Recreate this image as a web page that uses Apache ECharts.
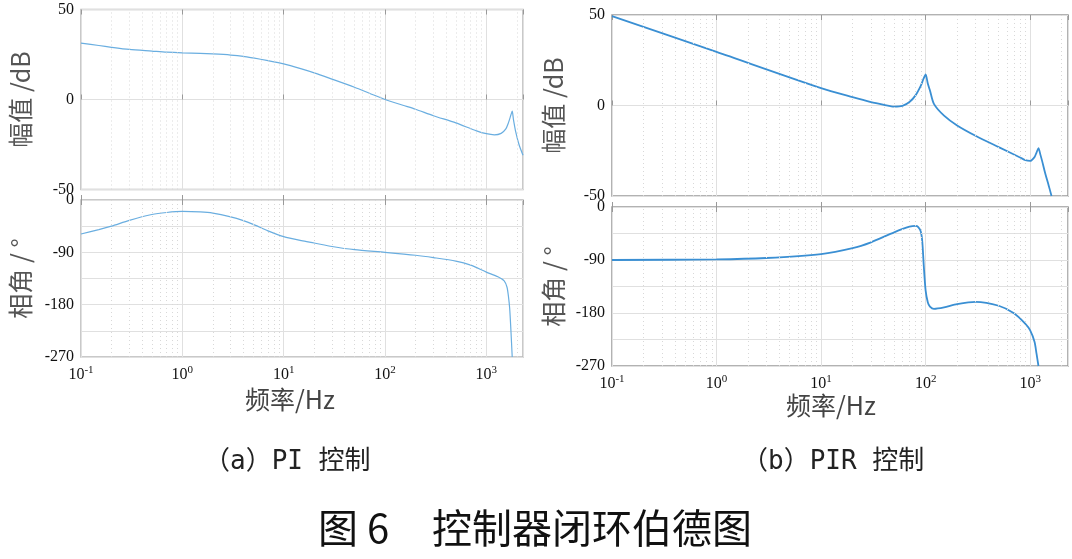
<!DOCTYPE html>
<html>
<head>
<meta charset="utf-8">
<script src="https://cdn.jsdelivr.net/npm/echarts@6/dist/echarts.min.js"></script>
<style>
    html, body { margin: 0; padding: 0; background: #fff; }
    #chart { width: 1072px; height: 559px; }
</style>
</head>
<body>
<div id="chart"></div>
<script>
// (a) PI 控制 - 幅值
const piMagFreq = [0.1, 0.15, 0.2, 0.3, 0.5, 0.7, 1, 1.5, 2, 3, 4, 5, 7, 10, 15, 20, 30, 50, 70, 100, 150, 200, 300, 500, 800, 1000, 1200, 1400, 1550, 1650, 1750, 1800, 1850, 1950, 2100, 2300]
const piMag = [31.3, 30, 29, 27.8, 26.9, 26.3, 25.9, 25.6, 25.3, 24.7, 24, 23.1, 21.6, 19.8, 17, 14.8, 11.3, 6.8, 3.5, 0, -3.2, -5.4, -9, -13, -17.4, -19, -19.6, -18.8, -16.5, -13, -8.5, -6.5, -11, -18, -25, -31]
// (a) PI 控制 - 相角
const piPhaseFreq = [0.1, 0.15, 0.2, 0.3, 0.5, 0.7, 1, 1.5, 2, 3, 4, 5, 7, 10, 15, 20, 30, 50, 100, 200, 300, 500, 700, 1000, 1300, 1500, 1600, 1650, 1700, 1750, 1800]
const piPhase = [-58.5, -51, -45, -35, -25, -21.5, -19.7, -20.5, -22.5, -29, -35.5, -42, -53, -63, -70, -74, -80, -85.5, -90, -95, -99, -105, -112, -124, -132, -139, -150, -165, -187, -226, -270]
// (b) PIR 控制 - 幅值
const pirMagFreq = [0.1, 1, 10, 20, 30, 40, 50, 60, 70, 80, 90, 95, 100, 105, 110, 120, 150, 200, 300, 500, 800, 900, 1000, 1100, 1150, 1200, 1250, 1300, 1400, 1500, 1600]
const pirMag = [49.4, 29.6, 9.6, 4.6, 1.9, 0.4, -0.6, -0.2, 1.9, 5.6, 11, 14.5, 17.2, 12, 8.3, 0.9, -5.6, -11, -16.7, -23, -28.7, -30.2, -30.6, -28.5, -26, -23.5, -27, -30.6, -38, -44, -50]
// (b) PIR 控制 - 相角
const pirPhaseFreq = [0.1, 1, 3, 10, 20, 30, 50, 70, 80, 85, 90, 93, 96, 100, 105, 110, 120, 150, 200, 300, 500, 700, 900, 1000, 1100, 1150, 1200]
const pirPhase = [-90, -89, -86.6, -80, -70, -60, -43, -33.5, -32, -34, -42, -60, -100, -142, -162, -169, -173, -170.5, -165, -161, -167.7, -180.5, -198.5, -209.6, -229, -249, -270]

const freqMin = 0.1
const freqMax = 2300
const magTicks = [-50, 0, 50]
const phaseTicks = [-270, -180, -90, 0]

// 次网格线 2..9 x 10^k
const minorGrid = []
for (let e = -1; e <= 3; e++) {
    for (let m = 2; m <= 9; m++) {
        const v = m * Math.pow(10, e)
        if (v < freqMax) minorGrid.push(v)
    }
}

const pairs = (xs, ys) => xs.map((x, i) => [x, ys[i]])

const serif = 'Liberation Serif'
const cjk = 'Noto Sans CJK SC'

function xLabel(v) {
    const lg = Math.log10(v)
    const e = Math.round(lg)
    if (Math.abs(lg - e) > 1e-6) return ''
    return '{b|10}{s|' + e + '}'
}

function makeX(grid, showLabel, gap, shift) {
    return [{
        type: 'log',
        logBase: 10,
        gridIndex: grid,
        min: freqMin,
        max: freqMax,
        axisLine: {show: false},
        axisTick: {show: true, inside: true, length: 5, lineStyle: {color: '#999'}},
        axisLabel: {
            show: showLabel,
            margin: 8,
            showMaxLabel: false,
            formatter: xLabel,
            rich: {
                b: {fontFamily: serif, fontSize: 16, color: '#111', lineHeight: 20},
                s: {fontFamily: serif, fontSize: 11, color: '#111', verticalAlign: 'top', lineHeight: 12}
            }
        },
        splitLine: {show: true, lineStyle: {color: '#e0e0e0', width: 1}},
        name: showLabel ? '频率/Hz' : '',
        nameLocation: 'middle',
        nameGap: gap,
        nameTextStyle: {fontFamily: cjk, fontSize: 25, color: '#444', padding: [0, shift, 0, 0]}
    }, {
        type: 'log',
        logBase: 10,
        gridIndex: grid,
        position: 'top',
        min: freqMin,
        max: freqMax,
        axisLine: {show: false},
        axisTick: {show: true, inside: true, length: 5, lineStyle: {color: '#999'}},
        axisLabel: {show: false},
        splitLine: {show: false}
    }]
}

function makeY(grid, isMag, gap) {
    return {
        type: 'value',
        gridIndex: grid,
        min: isMag ? -50 : -270,
        max: isMag ? 50 : 0,
        interval: isMag ? 50 : 45,
        axisLine: {show: false},
        axisTick: {show: false},
        axisLabel: {
            margin: 7,
            fontFamily: serif,
            fontSize: 16,
            color: '#111',
            formatter: v => (isMag ? magTicks : phaseTicks).includes(v) ? String(v) : ''
        },
        splitLine: {show: true, lineStyle: {color: '#e0e0e0', width: 1.2}},
        name: isMag ? '幅值 /dB' : '相角 / °',
        nameLocation: 'middle',
        nameRotate: 90,
        nameGap: gap,
        nameTextStyle: {fontFamily: cjk, fontSize: 25, color: '#555'}
    }
}

function makeSeries(idx, data, color, width) {
    return {
        type: 'line',
        xAxisIndex: idx * 2,
        yAxisIndex: idx,
        data: data,
        showSymbol: false,
        smooth: 0.25,
        clip: true,
        lineStyle: {color: color, width: width},
        markLine: {
            silent: true,
            symbol: 'none',
            animation: false,
            label: {show: false},
            lineStyle: {color: '#d8d8d8', type: [1, 3], width: 1},
            data: minorGrid.map(v => ({xAxis: v}))
        }
    }
}

const chart = echarts.init(document.getElementById('chart'), null, {renderer: 'canvas'})
const options = {
    animation: false,
    backgroundColor: '#fff',
    grid: [
        {left: 81, top: 9.5, width: 442, height: 180, show: true, borderColor: '#b8b8b8', borderWidth: 1.5},
        {left: 81, top: 200, width: 442, height: 157, show: true, borderColor: '#b8b8b8', borderWidth: 1.5},
        {left: 612, top: 15, width: 456, height: 181, show: true, borderColor: '#999', borderWidth: 1.5},
        {left: 612, top: 207, width: 456, height: 159, show: true, borderColor: '#999', borderWidth: 1.5}
    ],
    xAxis: [].concat(makeX(0, false, 0, 0), makeX(1, true, 30, 24), makeX(2, false, 0, 0), makeX(3, true, 24, 18)),
    yAxis: [makeY(0, true, 48), makeY(1, false, 48), makeY(2, true, 46), makeY(3, false, 46)],
    series: [
        makeSeries(0, pairs(piMagFreq, piMag), '#6aaee0', 1.2),
        makeSeries(1, pairs(piPhaseFreq, piPhase), '#6aaee0', 1.2),
        makeSeries(2, pairs(pirMagFreq, pirMag), '#3a8fd3', 1.8),
        makeSeries(3, pairs(pirPhaseFreq, pirPhase), '#3a8fd3', 1.8)
    ],
    graphic: [
        {type: 'text', x: 204, y: 462, style: {text: '（a）PI 控制', font: '26px "DejaVu Sans Mono", "Noto Sans CJK SC"', fill: '#222', textVerticalAlign: 'middle'}},
        {type: 'text', x: 742, y: 462, style: {text: '（b）PIR 控制', font: '26px "DejaVu Sans Mono", "Noto Sans CJK SC"', fill: '#222', textVerticalAlign: 'middle'}},
        {type: 'text', x: 318, y: 528, style: {text: '图 6', font: '40px "Noto Sans CJK SC"', fill: '#111', textVerticalAlign: 'middle'}},
        {type: 'text', x: 432, y: 528, style: {text: '控制器闭环伯德图', font: '40px "Noto Sans CJK SC"', fill: '#111', textVerticalAlign: 'middle'}}
    ]
}
chart.setOption(options)
</script>
</body>
</html>
